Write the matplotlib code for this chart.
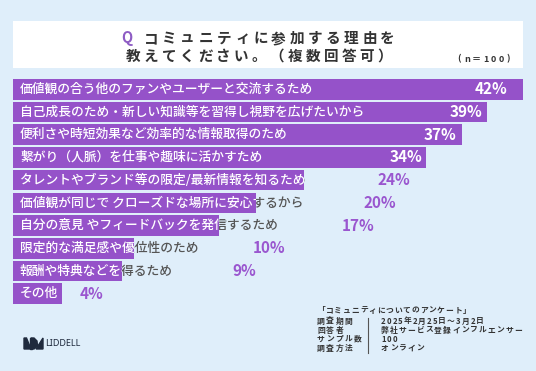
import matplotlib.pyplot as plt
from matplotlib.patches import Rectangle, Polygon
from matplotlib.lines import Line2D

plt.rcParams['font.family'] = ['Noto Sans CJK JP', 'DejaVu Sans']

# data
reasons = [
    "価値観の合う他のファンやユーザーと交流するため",
    "自己成長のため・新しい知識等を習得し視野を広げたいから",
    "便利さや時短効果など効率的な情報取得のため",
    "繋がり（人脈）を仕事や趣味に活かすため",
    "タレントやブランド等の限定/最新情報を知るため",
    "価値観が同じで クローズドな場所に安心するから",
    "自分の意見 やフィードバックを発信するため",
    "限定的な満足感や優位性のため",
    "報酬や特典などを得るため",
    "その他",
]
values = [42, 39, 37, 34, 24, 20, 17, 10, 9, 4]
pct_labels = [f"{v}%" for v in values]

title_q = "Q"
title_line1 = "コミュニティに参加する理由を"
title_line2 = "教えてください。（複数回答可）"
n_label = "(n＝100)"
survey_title = "「コミュニティについてのアンケート」"
survey_keys = ["調査期間", "回答者", "サンプル数", "調査方法"]
survey_vals = ["2025年2月25日～3月2日", "弊社サービス登録インフルエンサー", "100", "オンライン"]

# layout (pixels)
W, H = 536, 371
BG = '#dfeefa'
PURPLE = '#9552c9'
PURPLE_TXT = '#9a56cf'
GRAY = '#555555'
DARK = '#333333'
pct_px = [475, 450, 424, 390, 377, 363, 342, 253, 232, 80]

fig = plt.figure(figsize=(W / 100, H / 100), dpi=100, facecolor=BG)


def fx(px):
    return px / W


def fy(py):
    return 1 - py / H


def spaced(x, y, s, size, gap, color=DARK, weight='bold'):
    # draw text char by char to get letter spacing
    em = size * 100 / 72
    for ch in s:
        if ch == ' ':
            x += em * 0.3
            continue
        fig.text(fx(x), fy(y), ch, fontsize=size, color=color,
                 weight=weight, ha='left', va='center')
        if ord(ch) > 0x2000:
            x += em + gap
        else:
            x += em * 0.58 + gap
    return x


# title box
fig.add_artist(Rectangle((fx(13), fy(68)), 510 / W, 47 / H,
                         transform=fig.transFigure, facecolor='white',
                         edgecolor='none', zorder=0))
spaced(121, 38, title_q, 10.5, 3.6, color='#8e5cc4')
spaced(144, 38, title_line1, 10.5, 3.6)
spaced(126, 56, title_line2, 10.5, 3.4)
spaced(457, 59, n_label, 6.5, 2.3)

# bars
ax = fig.add_axes([13 / W, 1 - 304 / H, 510 / W, 225 / H])
ax.set_xlim(0, 42)
ax.set_ylim(9.4535, -0.4535)
ax.axis('off')
px2d = 42 / 510

bars = ax.barh(range(len(values)), values, height=0.907, color=PURPLE, zorder=2)
lx = 7 * px2d
for i, (txt, bar) in enumerate(zip(reasons, bars)):
    ax.text(lx, i, txt, color=GRAY, fontsize=9.2, va='center', ha='left',
            zorder=1, weight='medium')
    t = ax.text(lx, i, txt, color='white', fontsize=9.2, va='center',
                ha='left', zorder=3, weight='medium', clip_on=True)
    t.set_clip_path(bar)
    c = 'white' if i < 4 else PURPLE_TXT
    ax.text((pct_px[i] - 13) * px2d, i, pct_labels[i], color=c, fontsize=11,
            weight='bold', va='center', ha='left', zorder=4)

# footer
spaced(317, 310, survey_title, 5.6, 0.8)
for k, (key, val) in enumerate(zip(survey_keys, survey_vals)):
    yy = 321 + k * 9
    spaced(317, yy, key, 5.6, 1.5)
    spaced(381, yy, val, 5.6, 1.1)
fig.add_artist(Line2D([fx(368), fx(368)], [fy(318), fy(353)],
                      color='#555555', lw=0.8))

# logo
LOGO = '#1f2a3d'
fig.add_artist(Polygon([(fx(24), fy(338)), (fx(26.5), fy(338)),
                        (fx(31), fy(349)), (fx(24), fy(349))],
                       closed=True, transform=fig.transFigure, color=LOGO))
fig.add_artist(Rectangle((fx(30), fy(349)), 2 / W, 11 / H,
                         transform=fig.transFigure, color=LOGO))
fig.add_artist(Polygon([(fx(31), fy(338)), (fx(34), fy(338)), (fx(37), fy(341)),
                        (fx(37.5), fy(346)), (fx(34), fy(349)), (fx(31), fy(349))],
                       closed=True, transform=fig.transFigure, color=LOGO))
fig.add_artist(Polygon([(fx(36), fy(349)), (fx(43), fy(338)), (fx(43), fy(349))],
                       closed=True, transform=fig.transFigure, color=LOGO))
fig.text(fx(45), fy(344), "LIDDELL", fontsize=6.5, weight='bold', color=LOGO,
         ha='left', va='center', family='Noto Sans')

fig.savefig('out.png', dpi=100, facecolor=BG)
